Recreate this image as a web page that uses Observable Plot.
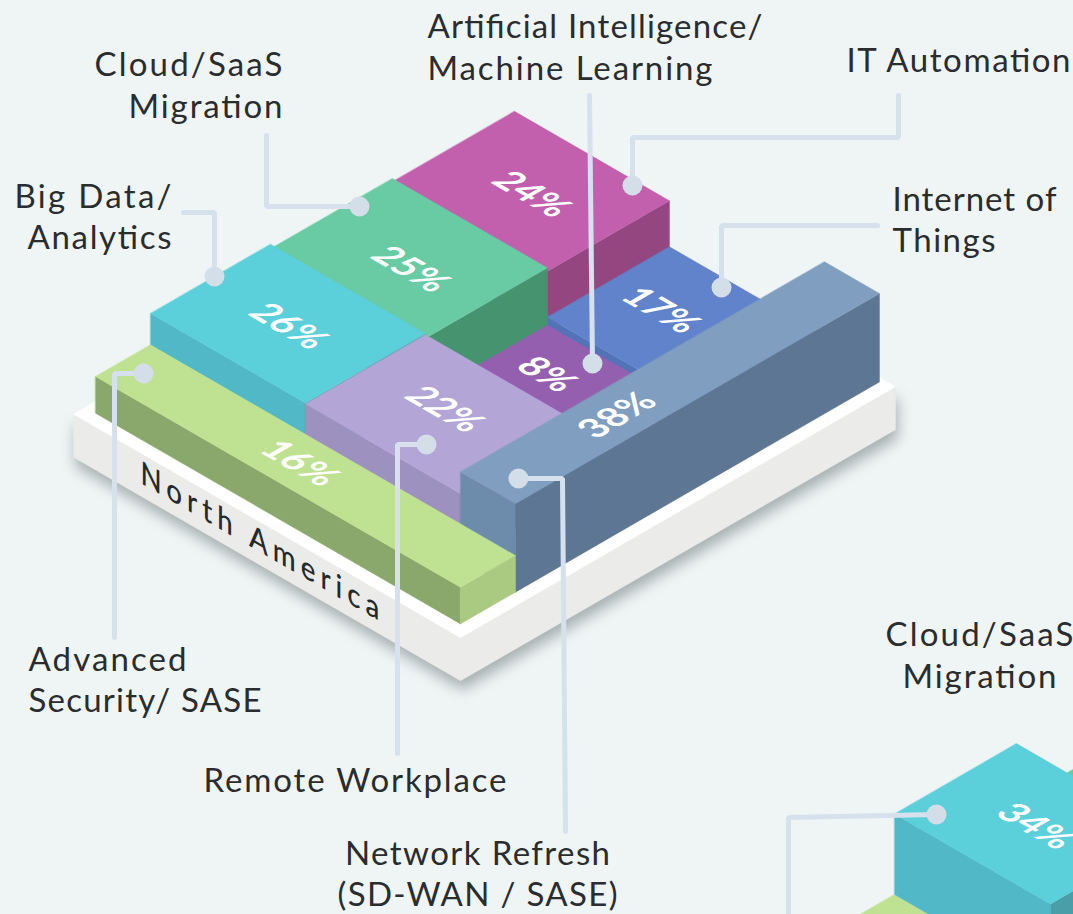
<!DOCTYPE html>
<html>
<head>
<meta charset="utf-8">
<script src="https://cdn.jsdelivr.net/npm/d3@7"></script>
<script src="https://cdn.jsdelivr.net/npm/@observablehq/plot@0.6"></script>
<style>
html,body{margin:0;padding:0;background:#eff5f5;overflow:hidden;width:1073px;height:914px}
svg{display:block}
</style>
</head>
<body>
<div id="chart"></div>
<script>
// ---- values ----
const categories = ["IT Automation","Internet of Things","Cloud/SaaS Migration","Artificial Intelligence/ Machine Learning","Big Data/ Analytics","Remote Workplace","Network Refresh (SD-WAN / SASE)","Advanced Security/ SASE"];
const shares     = [24,17,25,8,26,22,38,16];
// isometric footprint of each block, back to front
const uStart = [0,155,0,155,0,155,310,0];
const uEnd   = [155,310,155,310,155,310,365,365];
const vStart = [297,297,175,175,55,55,55,0];
const vEnd   = [419,419,297,297,175,175,419,55];
const rise   = [60,14,63.3,6,68,67,88.5,36.6];
const topColor   = ["#c260ad","#6183cc","#68cba4","#955fb0","#5bcfda","#b3a6d6","#7f9ec0","#bfe192"];
const leftColor  = ["#944680","#5273b8","#45936f","#7f4f98","#50b8c6","#9d91bf","#6d8cac","#8aa86b"];
const rightColor = ["#944680","#5273b8","#45936f","#7f4f98","#4a9ea8","#8d82ad","#5d7693","#a9ca80"];
const pctX = [531,660,410,546,288,444,617,299];
const pctY = [194,310,269,374,326,409,415,463];

// second region, cropped by the picture
const shares2 = [34];
const u2Start = [0,0,0], u2End = [365,156,156], v2Start = [-55,122,0], v2End = [0,244,122], rise2 = [0,22,80.5];
const top2 = ["#bfe192","#68cba4","#5bcfda"], left2 = ["#8aa86b","#5aa585","#50b8c6"], right2 = ["#a9ca80","#45936f","#4a9ea8"];

const labelLines = ["Cloud/SaaS","Migration","Big Data/","Analytics","Artificial Intelligence/","Machine Learning","IT Automation","Internet of","Things","Advanced","Security/ SASE","Remote Workplace","Network Refresh","(SD-WAN / SASE)","Cloud/SaaS","Migration"];
const labelX = [282,282,171,171,427,427,846,892,892,28,28,203,477,477,979,979];
const labelY = [65,107,197,238,27,69,61,200,241,660,701,781,854,895,635,677];
const labelAnchor = ["end","end","end","end","start","start","start","start","start","start","start","start","middle","middle","middle","middle"];
const labelWidth = [188,154,157,144,335,285,224,164,103,158,233,303,265,280,188,154];

const leaderPaths = [
  [[183,212],[214,212],[214,276]],
  [[266,135],[266,206],[359,206]],
  [[589,95],[592,363]],
  [[898,95],[898,137],[632,137],[632,185]],
  [[877,225],[721,225],[721,287]],
  [[143,373],[114,373],[114,637]],
  [[426,444],[397,444],[397,753]],
  [[518,478],[562,478],[565,831]],
  [[936,814],[788,817],[788,914]]
];

// ---- isometric projection helpers ----
const K = Math.tan(Math.PI/6);
const iso = (ox,oy) => (u,v,h=0) => [ox+u+v, oy+K*(u-v)-h];
const main = iso(95,412.7), second = iso(894,894);
const polys = [];
function addPoly(id,color,corners){ corners.forEach(([x,y])=>polys.push({id,color,x,y})); }
function addBlock(p,id,u0,u1,v0,v1,h,ct,cl,cr){
  if(h>0){
    addPoly(id+"l",cl,[p(u0,v0,h),p(u1,v0,h),p(u1,v0,0),p(u0,v0,0)]);
    addPoly(id+"r",cr,[p(u1,v0,h),p(u1,v1,h),p(u1,v1,0),p(u1,v0,0)]);
  }
  addPoly(id+"t",ct,[p(u0,v0,h),p(u1,v0,h),p(u1,v1,h),p(u0,v1,h)]);
}
categories.forEach((c,i)=>addBlock(main,"m"+i,uStart[i],uEnd[i],vStart[i],vEnd[i],rise[i],topColor[i],leftColor[i],rightColor[i]));
u2Start.forEach((_,i)=>addBlock(second,"s"+i,u2Start[i],u2End[i],v2Start[i],v2End[i],rise2[i],top2[i],left2[i],right2[i]));

// platform
const plat = [];
[main(-10,-12,0),main(377,-12,0),main(377,423,0),main(377,423,-43),main(377,-12,-43),main(-10,-12,-43)].forEach(([x,y])=>plat.push({id:"side",color:"#ebebe9",x,y}));
const platTop=[]; [main(-10,-12,0),main(377,-12,0),main(377,423,0),main(-10,423,0)].forEach(([x,y])=>platTop.push({id:"top",color:"#ffffff",x,y}));

const pcts = categories.map((c,i)=>({t:shares[i]+"%",x:pctX[i],y:pctY[i],dir:c.startsWith("Network")?"v":"u"}));
const pcts2 = [{t:shares2[0]+"%",x:1035,y:826}];
const labels = labelLines.map((t,i)=>({t,x:labelX[i],y:labelY[i],a:labelAnchor[i],w:labelWidth[i]}));
const leaders = leaderPaths.flatMap((p,i)=>p.map(([x,y])=>({id:i,x,y})));
const dots = leaderPaths.map((p,i)=> i<=4 ? p[p.length-1] : p[0]);

const polyOpts = {x:"x",y:"y",z:"id",fill:"color",stroke:"color",strokeWidth:0.4,curve:"linear-closed"};
const pctOpts = {x:"x",y:"y",text:"t",fontSize:37,fontWeight:700,fontFamily:"Lato",fill:"#fff",lineAnchor:"middle"};
const labelOpts = {x:"x",y:"y",text:"t",fontSize:33,fontFamily:"Lato",fill:"#2a2c2e",lineAnchor:"middle"};
const chart = Plot.plot({
  width:1073,height:914,margin:0,
  x:{domain:[0,1073],range:[0,1073],axis:null},
  y:{domain:[0,914],range:[0,914],axis:null},
  color:{type:"identity"},
  style:{background:"#eff5f5",overflow:"hidden"},
  marks:[
    Plot.line(plat,{...polyOpts,imageFilter:"drop-shadow(2px 9px 7px rgba(70,80,85,.42))"}),
    Plot.line(platTop,polyOpts),
    Plot.line(polys,{...polyOpts,clip:true}),
    Plot.text([{t:"North America",x:262,y:553}],{x:"x",y:"y",text:"t",fontSize:32,fontFamily:"Lato",fill:"#26282a",textAnchor:"middle",lineAnchor:"bottom",fontWeight:500}),
    Plot.text(pcts.filter(d=>d.dir==="u"),pctOpts),
    Plot.text(pcts.filter(d=>d.dir==="v"),pctOpts),
    Plot.text(pcts2,pctOpts),
    Plot.line(leaders,{x:"x",y:"y",z:"id",stroke:"#d6e1ed",strokeWidth:5,strokeLinejoin:"miter",clip:true}),
    Plot.dot(dots,{x:d=>d[0],y:d=>d[1],r:10,fill:"#d4dee9"}),
    Plot.text(labels.filter(d=>d.a==="start"),{...labelOpts,textAnchor:"start"}),
    Plot.text(labels.filter(d=>d.a==="end"),{...labelOpts,textAnchor:"end"}),
    Plot.text(labels.filter(d=>d.a==="middle"),{...labelOpts,textAnchor:"middle"})
  ]
});
const groups = d3.select(chart).selectAll('g[aria-label="text"]').nodes();
const shear=(g,m)=>d3.select(g).selectAll("text").attr("transform",function(){
  const t=(this.getAttribute("transform")||"").match(/translate\(([-\d.]+),\s*([-\d.]+)\)/);
  return `translate(${t[1]},${t[2]}) matrix(${m})`;
});
shear(groups[0],"0.866,0.5,0,1,0,0");
shear(groups[1],"0.866,0.5,-0.866,0.5,0,0");
shear(groups[2],"0.866,-0.5,0.866,0.5,0,0");
shear(groups[3],"0.866,0.5,-0.866,0.5,0,0");
d3.select(groups[0]).selectAll("text").style("letter-spacing","5.8px");
[groups[4],groups[5],groups[6]].forEach(g=>d3.select(g).selectAll("text").each(function(){
  const d=labels.find(l=>l.t===this.textContent);
  this.setAttribute("textLength",d.w);this.setAttribute("lengthAdjust","spacing");
}));
document.getElementById("chart").appendChild(chart);
</script>
</body>
</html>
